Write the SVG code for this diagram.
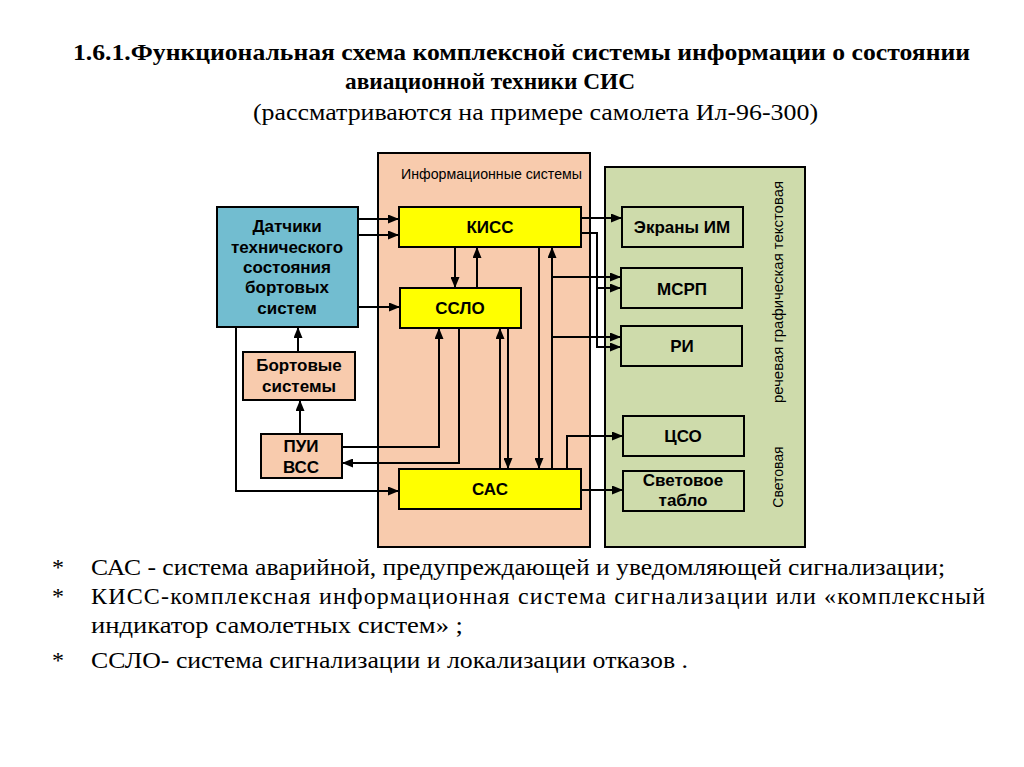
<svg xmlns="http://www.w3.org/2000/svg" width="1024" height="767" viewBox="0 0 1024 767">
<style>
.title{font-family:"Liberation Serif","Times New Roman",serif;font-size:24px;fill:#000}
.b{font-weight:bold}
.note{font-family:"Liberation Serif","Times New Roman",serif;font-size:24px;fill:#000}
.lbl{font-family:"Liberation Sans",Arial,sans-serif;font-size:17px;font-weight:bold;text-anchor:middle;fill:#000}
.sm{font-family:"Liberation Sans",Arial,sans-serif;font-size:14px;fill:#000}
.box{stroke:#000;stroke-width:2}
.peach{fill:#F8CBAD}
.green{fill:#CEDBAB}
.yellow{fill:#FFFF00}
.blue{fill:#72BDD0}
.wire{fill:none;stroke:#000;stroke-width:2}
.arr{marker-end:url(#ah)}
</style>
<defs>
<marker id="ah" markerUnits="userSpaceOnUse" markerWidth="11" markerHeight="9" refX="11" refY="4.5" orient="auto">
<path d="M0,0 L11,4.5 L0,9 z" fill="#000"/>
</marker>
</defs>
<rect width="1024" height="767" fill="#fff"/>
<g id="title">
<text class="title b" x="73" y="60" textLength="897" lengthAdjust="spacingAndGlyphs">1.6.1.Функциональная схема комплексной системы информации о состоянии</text>
<text class="title b" x="345" y="89" textLength="290" lengthAdjust="spacingAndGlyphs">авиационной техники СИС</text>
<text class="title" x="253" y="120" textLength="565" lengthAdjust="spacingAndGlyphs">(рассматриваются на примере самолета Ил-96-300)</text>
</g>
<g id="info-systems">
<rect class="box peach" x="378" y="153" width="212" height="394"/>
<text class="sm" x="401" y="179" textLength="181" lengthAdjust="spacingAndGlyphs">Информационные системы</text>
</g>
<g id="indication">
<rect class="box green" x="605" y="167" width="200" height="380"/>
<text class="sm" transform="translate(783,292) rotate(-90)" text-anchor="middle" textLength="222" lengthAdjust="spacingAndGlyphs">речевая  графическая  текстовая</text>
<text class="sm" transform="translate(783,477) rotate(-90)" text-anchor="middle">Световая</text>
</g>
<g id="sensors">
<rect class="box blue" x="217" y="207" width="141" height="120"/>
<text class="lbl" x="287" y="232">Датчики</text>
<text class="lbl" x="287" y="253">технического</text>
<text class="lbl" x="287" y="273">состояния</text>
<text class="lbl" x="287" y="293">бортовых</text>
<text class="lbl" x="287" y="314">систем</text>
</g>
<g id="kiss">
<rect class="box yellow" x="399" y="207" width="182" height="40"/>
<text class="lbl" x="490" y="233">КИСС</text>
</g>
<g id="sslo">
<rect class="box yellow" x="400" y="288" width="121" height="40"/>
<text class="lbl" x="460" y="314">ССЛО</text>
</g>
<g id="sas">
<rect class="box yellow" x="399" y="469" width="182" height="40"/>
<text class="lbl" x="490" y="495">САС</text>
</g>
<g id="onboard">
<rect class="box peach" x="243" y="352" width="112" height="48"/>
<text class="lbl" x="299" y="371">Бортовые</text>
<text class="lbl" x="299" y="392">системы</text>
</g>
<g id="pui">
<rect class="box peach" x="261" y="434" width="81" height="44"/>
<text class="lbl" x="301" y="452">ПУИ</text>
<text class="lbl" x="301" y="473">ВСС</text>
</g>
<g id="screens">
<rect class="box green" x="622" y="207" width="121" height="40"/>
<text class="lbl" x="682" y="233">Экраны ИМ</text>
</g>
<g id="msrp">
<rect class="box green" x="621" y="268" width="121" height="40"/>
<text class="lbl" x="682" y="295">МСРП</text>
</g>
<g id="ri">
<rect class="box green" x="621" y="326" width="121" height="40"/>
<text class="lbl" x="682" y="352">РИ</text>
</g>
<g id="tsso">
<rect class="box green" x="623" y="416" width="121" height="40"/>
<text class="lbl" x="683" y="442">ЦСО</text>
</g>
<g id="tablo">
<rect class="box green" x="623" y="471" width="121" height="40"/>
<text class="lbl" x="683" y="486">Световое</text>
<text class="lbl" x="683" y="506">табло</text>
</g>
<g id="connectors">
<path class="wire arr" d="M358,219 H399"/>
<path class="wire arr" d="M358,235 H399"/>
<path class="wire arr" d="M358,307 H400"/>
<path class="wire arr" d="M455,247 V288"/>
<path class="wire arr" d="M477,288 V247"/>
<path class="wire arr" d="M298,352 V327"/>
<path class="wire arr" d="M300,434 V400"/>
<path class="wire arr" d="M342,447 H439 V328"/>
<path class="wire arr" d="M459,328 V463 H342"/>
<path class="wire arr" d="M236,327 V491 H399"/>
<path class="wire arr" d="M500,469 V328"/>
<path class="wire arr" d="M508,328 V469"/>
<path class="wire arr" d="M539,247 V469"/>
<path class="wire arr" d="M552,469 V247"/>
<path class="wire arr" d="M552,277 H621"/>
<path class="wire arr" d="M552,337 H621"/>
<path class="wire arr" d="M567,469 V436 H623"/>
<path class="wire arr" d="M581,490 H623"/>
<path class="wire arr" d="M581,218 H622"/>
<path class="wire arr" d="M581,233 H597 V347 H621"/>
<path class="wire arr" d="M597,288 H621"/>
</g>
<g id="notes">
<text class="note" x="52" y="575">*</text>
<text class="note" x="91" y="575" textLength="854" lengthAdjust="spacingAndGlyphs">САС - система аварийной, предупреждающей и уведомляющей сигнализации;</text>
<text class="note" x="52" y="604">*</text>
<text class="note" x="91" y="604" textLength="894" lengthAdjust="spacing">КИСС-комплексная информационная система сигнализации или «комплексный</text>
<text class="note" x="91" y="633" textLength="372" lengthAdjust="spacingAndGlyphs">индикатор самолетных систем» ;</text>
<text class="note" x="52" y="668">*</text>
<text class="note" x="91" y="668" textLength="597" lengthAdjust="spacingAndGlyphs">ССЛО- система сигнализации и локализации отказов .</text>
</g>
</svg>
